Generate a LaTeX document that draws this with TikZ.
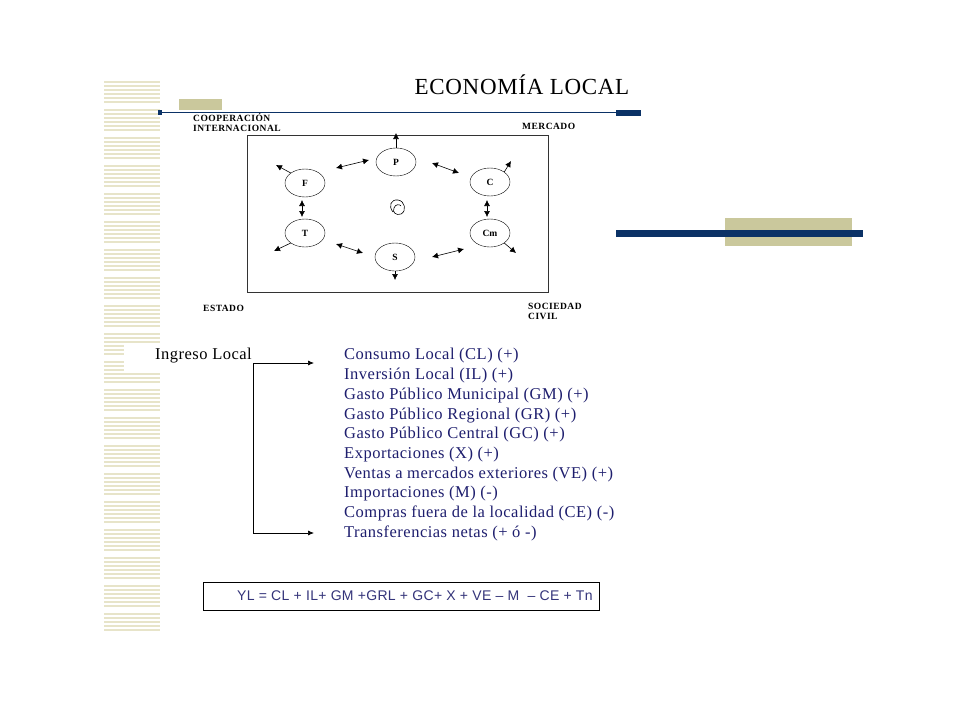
\documentclass[tikz,border=0pt]{standalone}
\usepackage{fontspec}
\setmainfont{Liberation Serif}
\newfontfamily\arialf{Liberation Sans}
\usetikzlibrary{shapes.geometric,arrows.meta}
\definecolor{navy}{HTML}{0B3266}
\definecolor{olive}{HTML}{CAC89C}
\definecolor{stripec}{HTML}{E7E4C9}
\definecolor{listc}{HTML}{1E1E6E}
\definecolor{formc}{HTML}{34347A}
\tikzset{
  circ/.style={draw, ellipse, minimum width=40pt, minimum height=28pt, inner sep=0pt, font=\fontsize{9.5}{9.5}\selectfont\bfseries},
  arr/.style={-{Latex[length=6pt,width=6pt]}, line width=0.6pt},
  darr/.style={{Latex[length=6pt,width=6pt]}-{Latex[length=6pt,width=6pt]}, line width=0.6pt},
  corner/.style={font=\fontsize{9.5}{10}\selectfont\bfseries, align=left, inner sep=0pt},
  listitem/.style={anchor=west, inner sep=0pt, text=listc, font=\fontsize{16.5}{17}\selectfont\addfontfeature{LetterSpace=3}},
  conn/.style={-{Latex[length=6pt,width=5pt]}, line width=0.7pt}
}
\begin{document}
\begin{tikzpicture}[x=1pt,y=-1pt]
\useasboundingbox (0,0) rectangle (960,720);
\fill[white] (0,0) rectangle (960,720);
% left stripes
\foreach \y in {77,81,...,631}{
  \pgfmathtruncatemacro\m{mod(\y,7)}
  \pgfmathsetmacro\xe{(\y>342 && \y<371) ? 124 : 160}
  \ifnum\m=0\relax\else
    \fill[stripec] (104,\y) rectangle (\xe,\y+2);
  \fi
}
% decorations
\fill[olive] (179,99) rectangle (222,110);
\fill[navy] (158,111.5) rectangle (616,113);
\fill[navy] (158,110) rectangle (162,115);
\fill[navy] (616,110) rectangle (641,116);
\fill[olive] (725,218) rectangle (852,246);
\fill[navy] (616,230) rectangle (863,237);
% title
\node[inner sep=0pt] (title) at (522,85) {\fontsize{23}{23}\selectfont\addfontfeature{LetterSpace=3}ECONOMÍA LOCAL};
% diagram box
\draw[line width=0.8pt, black!80] (247,135) rectangle (548,292);
\node[corner, anchor=north west] (coop) at (193,113) {\addfontfeature{LetterSpace=5}COOPERACIÓN\\\addfontfeature{LetterSpace=5}INTERNACIONAL};
\node[corner, anchor=north west] (merc) at (522,123) {\addfontfeature{LetterSpace=5}MERCADO};
\node[corner, anchor=north west] (est) at (203,305) {\addfontfeature{LetterSpace=5}ESTADO};
\node[corner, anchor=north west] (soc) at (528,303) {\addfontfeature{LetterSpace=5}SOCIEDAD\\\addfontfeature{LetterSpace=5}CIVIL};
% circles
\node[circ] (P) at (396,162) {P};
\node[circ] (F) at (305,183) {F};
\node[circ] (C) at (490,182) {C};
\node[circ] (T) at (305,233) {T};
\node[circ] (Cm) at (490,233) {Cm};
\node[circ] (S) at (395,257) {S};
% outward arrows
\coordinate (pu) at (396,133);
\coordinate (sd) at (395,280);
\coordinate (fo) at (276,165);
\coordinate (co) at (511,161);
\coordinate (to) at (274,251);
\coordinate (cmo) at (516,253);
\draw[arr] (P.north) -- (pu);
\draw[arr] (S.south) -- (sd);
\draw[arr] (F.north west) -- (fo);
\draw[arr] (C.north east) -- (co);
\draw[arr] (T.south west) -- (to);
\draw[arr] (Cm.south east) -- (cmo);
% double arrows
\coordinate (fp1) at (336,168); \coordinate (fp2) at (369,160);
\coordinate (pc1) at (432,163); \coordinate (pc2) at (459,173);
\coordinate (ft1) at (302,200); \coordinate (ft2) at (302,217);
\coordinate (cc1) at (487,200); \coordinate (cc2) at (487,217);
\coordinate (ts1) at (336,244); \coordinate (ts2) at (363,253);
\coordinate (sc1) at (432,257); \coordinate (sc2) at (464,249);
\draw[darr] (fp1) -- (fp2);
\draw[darr] (pc1) -- (pc2);
\draw[darr] (ft1) -- (ft2);
\draw[darr] (cc1) -- (cc2);
\draw[darr] (ts1) -- (ts2);
\draw[darr] (sc1) -- (sc2);
% center squiggle
\draw[line width=0.6pt] (393,212) .. controls (388,206) and (391,199) .. (398,200)
  .. controls (405,201) and (407,211) .. (401,214) .. controls (396,216) and (392,212) .. (394,208)
  .. controls (395,204) and (400,204) .. (401,206);
% income list
\node[anchor=west, inner sep=0pt, font=\fontsize{16.5}{17}\selectfont\addfontfeature{LetterSpace=3}] (ing) at (155,356) {Ingreso Local};
\node[listitem] (l1) at (344,356) {Consumo Local (CL) (+)};
\node[listitem] (l2) at (344,375.7) {Inversión Local (IL) (+)};
\node[listitem] (l3) at (344,395.4) {Gasto Público Municipal (GM) (+)};
\node[listitem] (l4) at (344,415.1) {Gasto Público Regional (GR) (+)};
\node[listitem] (l5) at (344,434.8) {Gasto Público Central (GC) (+)};
\node[listitem] (l6) at (344,454.5) {Exportaciones (X) (+)};
\node[listitem] (l7) at (344,474.2) {Ventas a mercados exteriores (VE) (+)};
\node[listitem] (l8) at (344,493.9) {Importaciones (M) (-)};
\node[listitem] (l9) at (344,513.6) {Compras fuera de la localidad (CE) (-)};
\node[listitem] (l10) at (344,533.3) {Transferencias netas (+ ó -)};
\coordinate (j1) at (253,363);
\coordinate (j2) at (253,533);
\coordinate (e1) at (314,363);
\coordinate (e2) at (314,533);
\draw[conn] (j1) -- (e1);
\draw[conn] (j1) -- (j2) -- (e2);
% formula
\node[draw, line width=0.8pt, minimum width=396pt, minimum height=28pt, anchor=north west, inner sep=0pt] (fbox) at (203,582) {};
\node[anchor=west, inner sep=0pt, text=formc, font=\arialf\fontsize{14}{14}\selectfont\addfontfeature{LetterSpace=2.3}] (form) at (237,596) {YL = CL + IL+ GM +GRL + GC+ X + VE – M \ – CE + Tn};
\end{tikzpicture}
\end{document}
